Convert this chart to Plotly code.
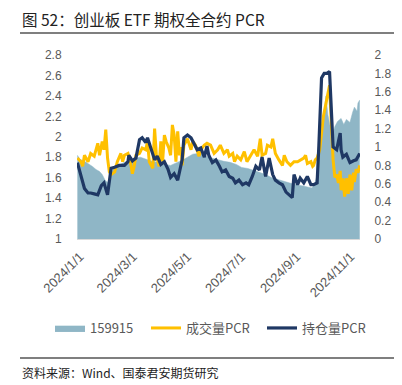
import pandas as pd
import plotly.graph_objects as go

# ---------------- data ----------------
base_date = "2023-12-28"   # day offsets below are counted from this date

# 159915 ETF price (left axis)
etf_day = [1, 4, 9, 13, 18, 22, 26, 29, 32, 35,
           38, 41, 47, 54, 61, 66, 72, 79, 85, 92,
           99, 106, 112, 119, 125, 131, 139, 146, 153, 160,
           166, 173, 180, 186, 193, 200, 207, 213, 220, 227,
           234, 240, 247, 254, 261, 265, 268, 272, 274, 276,
           279, 281, 283, 285, 288, 291, 294, 298, 301, 304,
           308, 311, 313, 316, 317, 319]
etf_val = [1.82, 1.78, 1.76, 1.74, 1.71, 1.68, 1.66, 1.63, 1.58, 1.55,
           1.62, 1.68, 1.72, 1.75, 1.77, 1.79, 1.80, 1.78, 1.76, 1.75,
           1.73, 1.72, 1.74, 1.77, 1.80, 1.83, 1.84, 1.81, 1.79, 1.77,
           1.76, 1.75, 1.73, 1.70, 1.69, 1.67, 1.65, 1.63, 1.60, 1.58,
           1.56, 1.55, 1.53, 1.52, 1.51, 1.50, 1.53, 1.65, 1.85, 2.05,
           2.25, 2.40, 2.22, 2.12, 2.00, 2.10, 2.15, 2.18, 2.12, 2.17,
           2.14, 2.24, 2.29, 2.25, 2.33, 2.36]

# 成交量PCR (right axis)
vol_day = [1, 5, 7, 9, 13, 16, 20, 24, 26, 29,
           31, 33, 35, 37, 39, 43, 46, 50, 52, 54,
           58, 61, 63, 65, 67, 71, 74, 78, 80, 82,
           86, 88, 90, 93, 95, 97, 99, 101, 104, 106,
           108, 110, 112, 114, 116, 118, 119, 121, 125, 129,
           131, 134, 138, 140, 144, 147, 151, 155, 159, 162,
           166, 170, 172, 176, 178, 181, 185, 189, 192, 196,
           200, 204, 207, 209, 213, 215, 219, 221, 224, 228,
           232, 234, 237, 241, 245, 249, 252, 256, 258, 260,
           264, 266, 267, 269, 271, 274, 278, 282, 285, 287,
           289, 291, 293, 295, 297, 298, 300, 302, 304, 306,
           308, 310, 312, 313, 315, 317, 319]
vol_pcr = [0.88, 0.84, 0.79, 0.91, 0.84, 0.93, 0.90, 1.04, 0.91, 1.06,
           0.97, 1.19, 0.88, 0.73, 0.70, 0.73, 0.84, 0.93, 0.84, 0.91,
           0.93, 0.82, 0.71, 0.79, 0.91, 0.93, 0.99, 0.97, 1.06, 0.84,
           0.77, 1.20, 0.91, 0.79, 1.06, 0.84, 1.13, 1.06, 0.99, 0.91,
           1.24, 1.13, 0.84, 1.17, 0.91, 1.00, 0.80, 1.02, 1.09, 0.97,
           1.06, 1.02, 0.90, 0.97, 1.02, 1.04, 1.02, 0.93, 0.97, 1.02,
           0.93, 0.97, 0.90, 0.93, 0.84, 0.90, 0.86, 0.95, 0.84, 0.90,
           0.97, 0.90, 1.09, 0.91, 0.93, 1.02, 1.00, 1.09, 0.93, 0.86,
           0.80, 0.91, 0.84, 0.80, 0.84, 0.84, 0.86, 0.88, 0.91, 0.82,
           0.84, 0.79, 0.80, 0.86, 0.88, 0.97, 1.33, 1.55, 1.67, 1.26,
           0.86, 0.67, 0.70, 0.61, 0.74, 0.53, 0.66, 0.46, 0.66, 0.49,
           0.70, 0.53, 0.72, 0.62, 0.76, 0.72, 0.80]

# 持仓量PCR (right axis)
oi_day = [1, 9, 13, 16, 20, 24, 28, 31, 35, 39,
          43, 48, 54, 58, 59, 63, 67, 71, 74, 78,
          80, 84, 88, 91, 95, 99, 103, 106, 110, 114,
          118, 119, 121, 125, 129, 133, 136, 140, 144, 147,
          149, 153, 157, 161, 164, 168, 172, 176, 179, 183,
          187, 191, 194, 198, 202, 206, 209, 213, 217, 221,
          224, 228, 232, 236, 239, 243, 245, 249, 252, 256,
          260, 264, 267, 271, 273, 276, 279, 282, 285, 288,
          289, 293, 297, 298, 300, 304, 308, 312, 315, 319]
oi_pcr = [0.83, 0.55, 0.50, 0.50, 0.49, 0.48, 0.58, 0.61, 0.48, 0.77,
          0.78, 0.80, 0.80, 0.84, 0.91, 0.85, 0.88, 1.08, 1.10, 1.05,
          1.10, 0.99, 0.86, 0.90, 0.81, 0.84, 0.76, 0.67, 0.71, 0.64,
          0.79, 0.86, 1.10, 1.13, 1.10, 1.02, 0.97, 0.99, 0.89, 1.01,
          0.91, 0.83, 0.86, 0.79, 0.73, 0.75, 0.68, 0.66, 0.61, 0.64,
          0.59, 0.61, 0.59, 0.68, 0.79, 0.75, 0.89, 0.68, 0.88, 0.70,
          0.64, 0.61, 0.59, 0.51, 0.48, 0.45, 0.70, 0.59, 0.66, 0.61,
          0.68, 0.59, 0.59, 0.61, 1.02, 1.75, 1.80, 1.80, 1.82, 1.15,
          1.00, 0.97, 1.15, 0.97, 0.89, 0.92, 0.83, 0.85, 0.86, 0.93]

x_tick_vals = ["2024-01-01", "2024-03-01", "2024-05-01", "2024-07-01", "2024-09-01", "2024-11-01"]
x_tick_text = ["2024/1/1", "2024/3/1", "2024/5/1", "2024/7/1", "2024/9/1", "2024/11/1"]
y1_tick_vals = [1.0, 1.2, 1.4, 1.6, 1.8, 2.0, 2.2, 2.4, 2.6, 2.8]
y1_tick_text = ["1", "1.2", "1.4", "1.6", "1.8", "2", "2.2", "2.4", "2.6", "2.8"]
y2_tick_vals = [0.0, 0.2, 0.4, 0.6, 0.8, 1.0, 1.2, 1.4, 1.6, 1.8, 2.0]
y2_tick_text = ["0", "0.2", "0.4", "0.6", "0.8", "1", "1.2", "1.4", "1.6", "1.8", "2"]

series_names = ["159915", "成交量PCR", "持仓量PCR"]
title_text = "图 52：创业板 ETF 期权全合约 PCR"
source_text = "资料来源：Wind、国泰君安期货研究"

# ---------------- figure ----------------
b = pd.Timestamp(base_date)
def to_dates(days):
    return [b + pd.Timedelta(days=d) for d in days]

# the page body has an 8px margin, so the figure is drawn 8px smaller
OFF = 8
W, H = 402 - OFF, 385 - OFF
PL, PR, PT, PB = 77, 360, 55, 239          # plot area in page pixels
L, R, T, B = PL - OFF, W - (PR - OFF), PT - OFF, H - (PB - OFF)
pw, ph = PR - PL, PB - PT
def px_x(x):
    return (x - PL) / pw
def px_y(y):
    return (PB - y) / ph

fig = go.Figure()
fig.add_trace(go.Scatter(
    x=to_dates(etf_day), y=etf_val, name=series_names[0], mode="lines",
    fill="tozeroy", fillcolor="#8FB6C6", line=dict(color="#8FB6C6", width=0.5),
    yaxis="y", legend="legend"))
fig.add_trace(go.Scatter(
    x=to_dates(vol_day), y=vol_pcr, name=series_names[1], mode="lines",
    line=dict(color="#FFC000", width=3), yaxis="y2", legend="legend2"))
fig.add_trace(go.Scatter(
    x=to_dates(oi_day), y=oi_pcr, name=series_names[2], mode="lines",
    line=dict(color="#1F3864", width=3.2), yaxis="y2", legend="legend3"))

tick_font = dict(family="Liberation Sans, Arial, sans-serif", size=12, color="#595959")
legend_font = dict(family="Noto Sans CJK SC, sans-serif", size=13, color="#595959")
def leg(xpx):
    return dict(orientation="h", x=px_x(xpx), y=px_y(328), xanchor="left", yanchor="middle",
                font=legend_font, bgcolor="rgba(0,0,0,0)", borderwidth=0)

fig.update_layout(
    width=W, height=H,
    margin=dict(l=L, r=R, t=T, b=B, pad=0),
    paper_bgcolor="white", plot_bgcolor="white",
    font=dict(family="Noto Sans CJK SC, sans-serif", color="#595959"),
    xaxis=dict(
        type="date",
        range=[b + pd.Timedelta(days=0.6), b + pd.Timedelta(days=319.3)],
        tickvals=x_tick_vals, ticktext=x_tick_text, tickangle=-45,
        tickfont=dict(family="Liberation Sans, Arial, sans-serif", size=13, color="#595959"),
        showgrid=False, zeroline=False, showline=True, linecolor="#D9D9D9", linewidth=1,
        ticks="outside", ticklen=4, tickcolor="rgba(0,0,0,0)",
    ),
    yaxis=dict(
        range=[1, 2.8], tickvals=y1_tick_vals, ticktext=y1_tick_text,
        tickfont=tick_font, showgrid=False, zeroline=False, showline=False,
        ticks="outside", ticklen=12, tickcolor="rgba(0,0,0,0)",
    ),
    yaxis2=dict(
        range=[0, 2], tickvals=y2_tick_vals, ticktext=y2_tick_text,
        overlaying="y", side="right",
        tickfont=tick_font, showgrid=False, zeroline=False, showline=False,
        ticks="outside", ticklen=11, tickcolor="rgba(0,0,0,0)",
    ),
    legend=leg(50), legend2=leg(146), legend3=leg(262),
    showlegend=True,
)

fig.add_annotation(
    text=title_text, xref="paper", yref="paper", x=px_x(21), y=px_y(19),
    xanchor="left", yanchor="middle", showarrow=False, borderpad=0,
    font=dict(family="Noto Sans CJK SC, sans-serif", size=15.5, color="#222222"))
fig.add_annotation(
    text=source_text, xref="paper", yref="paper", x=px_x(21), y=px_y(372),
    xanchor="left", yanchor="middle", showarrow=False, borderpad=0,
    font=dict(family="Noto Sans CJK SC, sans-serif", size=12, color="#222222"))
fig.add_shape(type="line", xref="paper", yref="paper",
              x0=px_x(20), x1=px_x(402), y0=px_y(33), y1=px_y(33),
              line=dict(color="#7F7F7F", width=2))
fig.add_shape(type="line", xref="paper", yref="paper",
              x0=px_x(20), x1=px_x(402), y0=px_y(358), y1=px_y(358),
              line=dict(color="#7F7F7F", width=2))

fig.write_html("out.html")
